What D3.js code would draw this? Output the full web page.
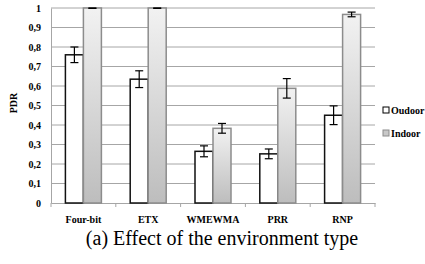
<!DOCTYPE html>
<html>
<head>
<meta charset="utf-8">
<script src="https://cdn.jsdelivr.net/npm/d3@7"></script>
<style>
  body { margin: 0; background: #fff; }
  svg { display: block; }
  text { font-family: "Liberation Serif", "Times New Roman", Times, "DejaVu Serif", serif; }
</style>
</head>
<body>
<svg id="chart"></svg>
<script>
const categories = ["Four-bit", "ETX", "WMEWMA", "PRR", "RNP"];
const seriesNames = ["Oudoor", "Indoor"];
const outdoorPdr = [0.76, 0.635, 0.265, 0.252, 0.45];
const outdoorErr = [0.04, 0.043, 0.028, 0.025, 0.048];
const indoorPdr = [1.0, 1.0, 0.383, 0.588, 0.967];
const indoorErr = [0.002, 0.002, 0.025, 0.05, 0.012];
const yTicks = [0, 0.1, 0.2, 0.3, 0.4, 0.5, 0.6, 0.7, 0.8, 0.9, 1];

const width = 425;
const height = 264;
const margin_left = 51;
const margin_top = 8;
const plot_w = 375 - margin_left;
const plot_h = 203 - margin_top;
const serif = '"Liberation Serif", "Times New Roman", Times, "DejaVu Serif", serif';

const svg = d3.select("#chart").attr("width", width).attr("height", height);

const defs = svg.append("defs");
const grad = defs.append("linearGradient")
    .attr("id", "indoorGrad")
    .attr("x1", 0).attr("y1", 0).attr("x2", 0).attr("y2", 1);
grad.append("stop").attr("offset", "0%").attr("stop-color", "#f2f2f2");
grad.append("stop").attr("offset", "100%").attr("stop-color", "#bdbdbd");

const g = svg.append("g").attr("transform", "translate(" + margin_left + "," + margin_top + ")");

const x = d3.scaleBand().domain(categories).range([0, plot_w]);
const xInner = d3.scaleBand().domain(seriesNames).range([0, 36]);
const y = d3.scaleLinear().domain([0, 1]).range([plot_h, 0]);

// gridlines
g.append("g").selectAll("line")
    .data(yTicks.filter(d => d > 0))
    .enter().append("line")
    .attr("x1", 0).attr("x2", plot_w)
    .attr("y1", d => y(d)).attr("y2", d => y(d))
    .attr("stroke", "#a6a6a6").attr("stroke-width", 1);

// y axis
const yAxis = g.append("g")
    .call(d3.axisLeft(y).tickValues(yTicks).tickSize(0).tickPadding(10)
        .tickFormat(d => d3.format(".1~f")(d).replace(".", ",")));
yAxis.attr("font-family", serif);
yAxis.select(".domain").attr("stroke", "#a6a6a6");
yAxis.selectAll("text")
    .style("font-size", "10px").style("font-weight", "bold")
    .style("font-family", serif).attr("fill", "#000");

// x axis
const xAxis = g.append("g")
    .attr("transform", "translate(0," + plot_h + ")")
    .call(d3.axisBottom(x).tickSize(0).tickPadding(13));
xAxis.attr("font-family", serif);
xAxis.select(".domain").attr("stroke", "#a6a6a6");
xAxis.selectAll("text")
    .style("font-size", "10px").style("font-weight", "bold")
    .style("font-family", serif).attr("fill", "#000");
g.append("g").selectAll("line")
    .data(d3.range(categories.length + 1))
    .enter().append("line")
    .attr("x1", i => i * x.bandwidth()).attr("x2", i => i * x.bandwidth())
    .attr("y1", plot_h).attr("y2", plot_h + 4)
    .attr("stroke", "#a6a6a6");

// bars
const groups = g.append("g").selectAll("g")
    .data(categories)
    .enter().append("g")
    .attr("transform", d => "translate(" + (x(d) + (x.bandwidth() - 36) / 2) + ",0)");

groups.append("rect")
    .attr("x", xInner("Oudoor")).attr("width", xInner.bandwidth())
    .attr("y", (d, i) => y(outdoorPdr[i]))
    .attr("height", (d, i) => plot_h - y(outdoorPdr[i]))
    .attr("fill", "#fff").attr("stroke", "#111").attr("stroke-width", 1.5);

groups.append("rect")
    .attr("x", xInner("Indoor")).attr("width", xInner.bandwidth())
    .attr("y", (d, i) => y(indoorPdr[i]))
    .attr("height", (d, i) => plot_h - y(indoorPdr[i]))
    .attr("fill", "url(#indoorGrad)").attr("stroke", "#8c8c8c").attr("stroke-width", 1.5);

// error bars
function errorBars(series, vals, errs) {
    const cx = xInner(series) + xInner.bandwidth() / 2;
    const eb = groups.append("g").attr("stroke", "#000").attr("stroke-width", 1.2);
    eb.append("line")
        .attr("x1", cx).attr("x2", cx)
        .attr("y1", (d, i) => y(Math.min(1, vals[i] + errs[i])))
        .attr("y2", (d, i) => y(vals[i] - errs[i]));
    eb.append("line")
        .attr("x1", cx - 4).attr("x2", cx + 4)
        .attr("y1", (d, i) => y(Math.min(1, vals[i] + errs[i])))
        .attr("y2", (d, i) => y(Math.min(1, vals[i] + errs[i])));
    eb.append("line")
        .attr("x1", cx - 4).attr("x2", cx + 4)
        .attr("y1", (d, i) => y(vals[i] - errs[i]))
        .attr("y2", (d, i) => y(vals[i] - errs[i]));
}
errorBars("Oudoor", outdoorPdr, outdoorErr);
errorBars("Indoor", indoorPdr, indoorErr);

// y label
svg.append("text")
    .attr("transform", "translate(17,103) rotate(-90)")
    .attr("text-anchor", "middle")
    .style("font-family", serif)
    .style("font-size", "10px").style("font-weight", "bold")
    .text("PDR");

// legend
const legend = svg.append("g").selectAll("g")
    .data(seriesNames)
    .enter().append("g")
    .attr("transform", (d, i) => "translate(383," + (110 + i * 23) + ")");
legend.append("rect")
    .attr("x", 0).attr("y", -3).attr("width", 6).attr("height", 6)
    .attr("fill", (d, i) => i === 0 ? "#fff" : "#c8c8c8")
    .attr("stroke", (d, i) => i === 0 ? "#000" : "#8c8c8c");
legend.append("text")
    .attr("x", 8).attr("y", 3.5)
    .style("font-family", serif)
    .style("font-size", "10px").style("font-weight", "bold")
    .text(d => d);

// caption
svg.append("text")
    .attr("x", 222).attr("y", 245)
    .attr("text-anchor", "middle")
    .style("font-family", serif)
    .style("font-size", "20px")
    .text("(a) Effect of the environment type");
</script>
</body>
</html>
